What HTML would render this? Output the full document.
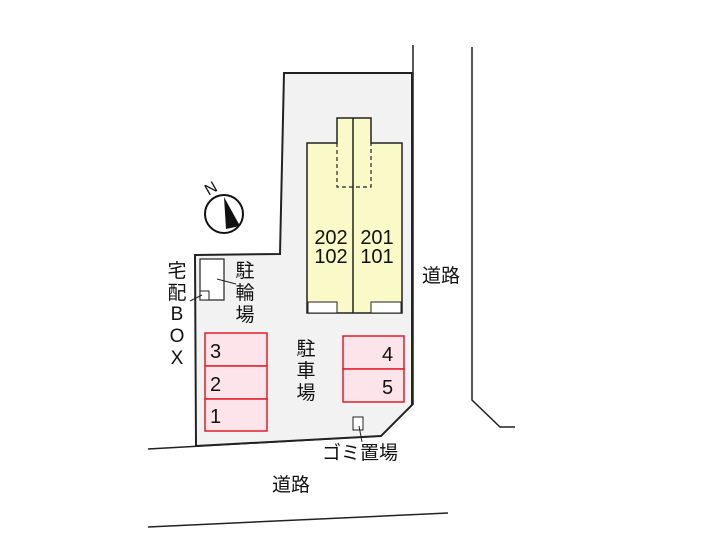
<html><body style="margin:0;background:#fff">
<svg width="702" height="545" xmlns="http://www.w3.org/2000/svg" font-family="Liberation Sans, Noto Sans CJK JP, sans-serif">
<polygon points="284,73 412,73 412,405 381,436 196,446 195,255 280,254" fill="#f2f2f2" stroke="#222" stroke-width="2"/>
<line x1="413" y1="45" x2="413" y2="405" stroke="#222" stroke-width="1.5"/>
<polyline points="472,47 472,400 500,427 515,427" fill="none" stroke="#222" stroke-width="1.5"/>
<line x1="148" y1="449" x2="381" y2="436" stroke="#222" stroke-width="1.5"/>
<line x1="148" y1="527" x2="448" y2="513" stroke="#222" stroke-width="1.5"/>
<polygon points="307,143 337,143 337,118 371,118 371,143 402,143 402,313 307,313" fill="#fafac8" stroke="#222" stroke-width="1.5"/>
<line x1="353" y1="118" x2="353" y2="313" stroke="#222" stroke-width="1.5"/>
<polyline points="337,143 337,187 371,187 371,143" fill="none" stroke="#222" stroke-width="1.2" stroke-dasharray="4,3"/>
<rect x="308" y="302" width="29" height="11" fill="#fff" stroke="#222"/>
<rect x="371" y="302" width="30" height="11" fill="#fff" stroke="#222"/>
<g font-size="20" fill="#111" text-anchor="middle"><text x="331" y="244">202</text><text x="331" y="263">102</text><text x="377" y="244">201</text><text x="377" y="263">101</text></g>
<rect x="200" y="259" width="24" height="41" fill="#fff" stroke="#222" stroke-width="1.2"/>
<rect x="200" y="291" width="9" height="9" fill="#fff" stroke="#222"/>
<line x1="217" y1="279" x2="236" y2="284" stroke="#222"/>
<line x1="190" y1="301" x2="202" y2="295" stroke="#222"/>
<g font-size="19" fill="#111" text-anchor="middle"><text x="245" y="277">駐</text><text x="245" y="299">輪</text><text x="245" y="321">場</text>
<text x="177" y="277">宅</text><text x="177" y="299">配</text><text x="177" y="320">B</text><text x="177" y="342">O</text><text x="177" y="364">X</text>
<text x="306" y="355">駐</text><text x="306" y="377">車</text><text x="306" y="399">場</text></g>
<g fill="#fde3ea" stroke="#e0202a" stroke-width="1.5"><rect x="205" y="333" width="62" height="33"/><rect x="205" y="366" width="62" height="33"/><rect x="205" y="399" width="62" height="32"/><rect x="343" y="336" width="61" height="33"/><rect x="343" y="369" width="61" height="33"/></g>
<g font-size="20" fill="#111"><text x="210" y="358">3</text><text x="210" y="391">2</text><text x="210" y="423">1</text><text x="382" y="361">4</text><text x="382" y="394">5</text></g>
<rect x="353" y="417" width="10" height="13" fill="#fff" stroke="#222"/>
<line x1="359" y1="426" x2="362" y2="442" stroke="#222"/>
<text x="322" y="459" font-size="19" fill="#111">ゴミ置場</text>
<text x="422" y="282" font-size="19" fill="#111">道路</text>
<text x="272" y="491" font-size="19" fill="#111">道路</text>
<circle cx="224" cy="214" r="19" fill="#fff" stroke="#111" stroke-width="2"/>
<polygon points="224,197 240,226 226,229" fill="#111"/>
<text x="205" y="193" font-size="16" fill="#111" transform="rotate(-30 212 188)">N</text>
</svg>
</body></html>
